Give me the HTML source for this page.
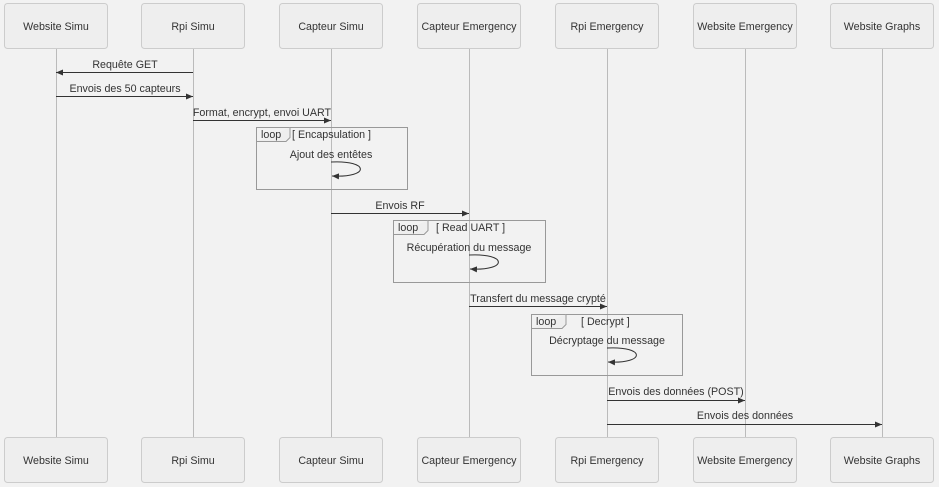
<!DOCTYPE html>
<html><head><meta charset="utf-8"><style>
html,body{margin:0;padding:0;background:#f2f2f2;width:939px;height:487px;overflow:hidden}
text{font-family:"Liberation Sans",sans-serif;font-size:10.7px;fill:#333}
</style></head><body>
<svg width="939" height="487" viewBox="0 0 939 487" xmlns="http://www.w3.org/2000/svg">
<defs><marker id="a" markerWidth="8" markerHeight="8" refX="7" refY="4" orient="auto" markerUnits="userSpaceOnUse"><path d="M0,1 L7,4 L0,7 z" fill="#333"/></marker></defs>
<g stroke="#bbb" stroke-width="1">
<line x1="56.5" y1="48" x2="56.5" y2="438"/><line x1="193.5" y1="48" x2="193.5" y2="438"/><line x1="331.5" y1="48" x2="331.5" y2="438"/><line x1="469.5" y1="48" x2="469.5" y2="438"/><line x1="607.5" y1="48" x2="607.5" y2="438"/><line x1="745.5" y1="48" x2="745.5" y2="438"/><line x1="882.5" y1="48" x2="882.5" y2="438"/>
</g>
<g fill="#eee" stroke="#ccc">
<rect x="4.5" y="3.5" width="103" height="45" rx="3"/><rect x="141.5" y="3.5" width="103" height="45" rx="3"/><rect x="279.5" y="3.5" width="103" height="45" rx="3"/><rect x="417.5" y="3.5" width="103" height="45" rx="3"/><rect x="555.5" y="3.5" width="103" height="45" rx="3"/><rect x="693.5" y="3.5" width="103" height="45" rx="3"/><rect x="830.5" y="3.5" width="103" height="45" rx="3"/>
<rect x="4.5" y="437.5" width="103" height="45" rx="3"/><rect x="141.5" y="437.5" width="103" height="45" rx="3"/><rect x="279.5" y="437.5" width="103" height="45" rx="3"/><rect x="417.5" y="437.5" width="103" height="45" rx="3"/><rect x="555.5" y="437.5" width="103" height="45" rx="3"/><rect x="693.5" y="437.5" width="103" height="45" rx="3"/><rect x="830.5" y="437.5" width="103" height="45" rx="3"/>
</g>
<g text-anchor="middle">
<text x="56" y="30">Website Simu</text><text x="193" y="30">Rpi Simu</text><text x="331" y="30">Capteur Simu</text><text x="469" y="30">Capteur Emergency</text><text x="607" y="30">Rpi Emergency</text><text x="745" y="30">Website Emergency</text><text x="882" y="30">Website Graphs</text>
<text x="56" y="464">Website Simu</text><text x="193" y="464">Rpi Simu</text><text x="331" y="464">Capteur Simu</text><text x="469" y="464">Capteur Emergency</text><text x="607" y="464">Rpi Emergency</text><text x="745" y="464">Website Emergency</text><text x="882" y="464">Website Graphs</text>
</g>
<g fill="none" stroke="#999">
<rect x="256.5" y="127.5" width="151" height="62"/><path d="M256.5,141.5 H286 L290,137.5 V127.5" fill="#eee"/>
<rect x="393.5" y="220.5" width="152" height="62"/><path d="M393.5,234.5 H424 L428,230.5 V220.5" fill="#eee"/>
<rect x="531.5" y="314.5" width="151" height="61"/><path d="M531.5,328.5 H562 L566,324.5 V314.5" fill="#eee"/>
</g>
<text x="261" y="138">loop</text><text x="292" y="138">[ Encapsulation ]</text>
<text x="398" y="231">loop</text><text x="436" y="231">[ Read UART ]</text>
<text x="536" y="325">loop</text><text x="581" y="325">[ Decrypt ]</text>
<g stroke="#333" stroke-width="1" fill="none" marker-end="url(#a)">
<line x1="193" y1="72.5" x2="56" y2="72.5"/>
<line x1="56" y1="96.5" x2="193" y2="96.5"/>
<line x1="193" y1="120.5" x2="331" y2="120.5"/>
<path d="M331,162 C370,160 370,178 332,176"/>
<line x1="331" y1="213.5" x2="469" y2="213.5"/>
<path d="M469,255 C508,253 508,271 470,269"/>
<line x1="469" y1="306.5" x2="607" y2="306.5"/>
<path d="M607,348 C646,346 646,364 608,362"/>
<line x1="607" y1="400.5" x2="745" y2="400.5"/>
<line x1="607" y1="424.5" x2="882" y2="424.5"/>
</g>
<g text-anchor="middle">
<text x="125" y="68">Requête GET</text>
<text x="125" y="92">Envois des 50 capteurs</text>
<text x="262" y="116">Format, encrypt, envoi UART</text>
<text x="331" y="158">Ajout des entêtes</text>
<text x="400" y="209">Envois RF</text>
<text x="469" y="251">Récupération du message</text>
<text x="538" y="302">Transfert du message crypté</text>
<text x="607" y="344">Décryptage du message</text>
<text x="676" y="395">Envois des données (POST)</text>
<text x="745" y="419">Envois des données</text>
</g>
</svg>
</body></html>
